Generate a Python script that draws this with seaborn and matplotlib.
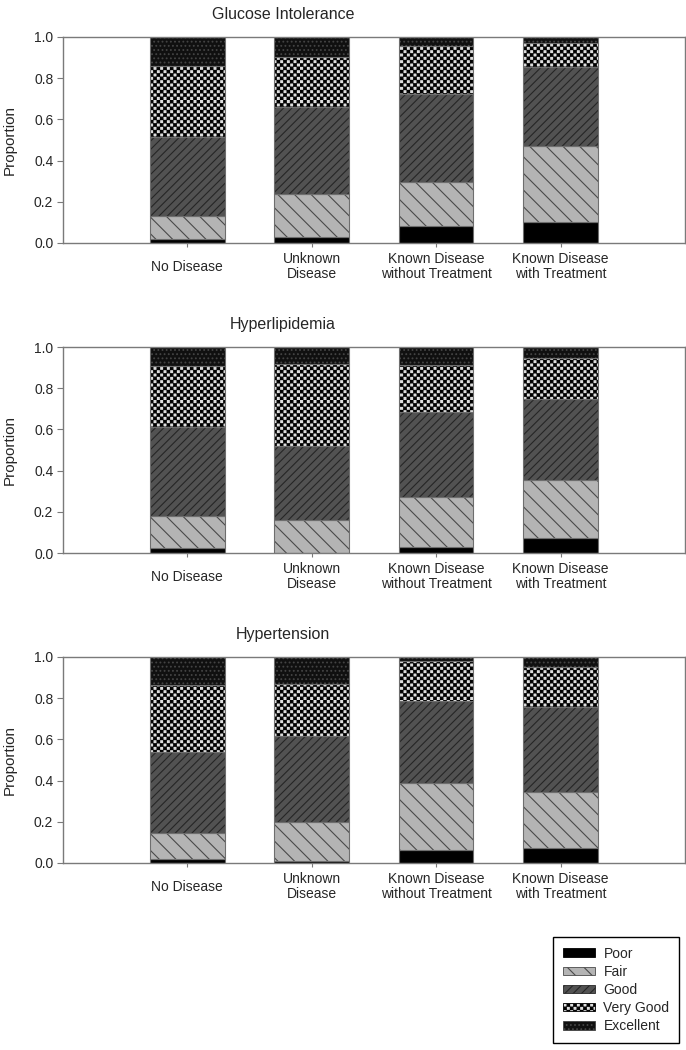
import warnings
import numpy as np
import pandas as pd
import matplotlib
matplotlib.use('Agg')
import matplotlib.pyplot as plt
import matplotlib.hatch as mhatch
from matplotlib.path import Path
from matplotlib.patches import Patch
import seaborn as sns

warnings.filterwarnings('ignore')

CATEGORIES = ["No Disease", "Unknown\nDisease",
              "Known Disease\nwithout Treatment", "Known Disease\nwith Treatment"]
RATINGS = ["Poor", "Fair", "Good", "Very Good", "Excellent"]
PANELS = ["Glucose Intolerance", "Hyperlipidemia", "Hypertension"]

# share of each health rating (rows, Poor -> Excellent) per category (columns)
glucose = [
    [0.020, 0.030, 0.080, 0.100],
    [0.110, 0.210, 0.215, 0.370],
    [0.385, 0.420, 0.430, 0.385],
    [0.345, 0.245, 0.230, 0.115],
    [0.140, 0.095, 0.045, 0.030],
]
hyperlipidemia = [
    [0.025, 0.002, 0.030, 0.075],
    [0.155, 0.158, 0.240, 0.280],
    [0.430, 0.360, 0.415, 0.395],
    [0.300, 0.400, 0.230, 0.195],
    [0.090, 0.080, 0.085, 0.055],
]
hypertension = [
    [0.018, 0.012, 0.062, 0.075],
    [0.130, 0.186, 0.328, 0.270],
    [0.392, 0.417, 0.395, 0.410],
    [0.325, 0.255, 0.195, 0.195],
    [0.135, 0.130, 0.020, 0.050],
]

# face colour, hatch, hatch colour
STYLES = {
    "Poor": ("#000000", None, "#000000"),
    "Fair": ("#b4b4b4", "\\\\", "#4a4a4a"),
    "Good": ("#525252", "////", "#262626"),
    "Very Good": ("#dedede", "#####", "#000000"),
    "Excellent": ("#101010", "....", "#444444"),
}


class CheckerHatch(mhatch.HatchPatternBase):
    """'#' in a hatch string draws a checkerboard of filled squares."""

    def __init__(self, hatch, density):
        n = hatch.count('#') * density
        self.num_cells = n + (n % 2)
        self.num_vertices = (self.num_cells ** 2 // 2) * 5

    def set_vertices_and_codes(self, vertices, codes):
        n = self.num_cells
        step = 1.0 / n
        inset = 0.004
        k = 0
        for i in range(n):
            for j in range(n):
                if (i + j) % 2:
                    continue
                x0, y0 = i * step + inset, j * step + inset
                x1, y1 = (i + 1) * step - inset, (j + 1) * step - inset
                vertices[k:k + 5] = [(x0, y0), (x1, y0), (x1, y1), (x0, y1), (x0, y0)]
                codes[k:k + 5] = [Path.MOVETO, Path.LINETO, Path.LINETO,
                                  Path.LINETO, Path.CLOSEPOLY]
                k += 5


mhatch._hatch_types.append(CheckerHatch)

sns.set_theme(style='white')
plt.rcParams['font.family'] = ['Liberation Sans', 'DejaVu Sans']
plt.rcParams['hatch.linewidth'] = 0.8

rows = []
for panel, table in zip(PANELS, [glucose, hyperlipidemia, hypertension]):
    for rating, vals in zip(RATINGS, table):
        for cat, v in zip(CATEGORIES, vals):
            rows.append({'panel': panel, 'rating': rating, 'category': cat, 'value': v})
df = pd.DataFrame(rows)
df['bottom'] = df.groupby(['panel', 'category'], sort=False)['value'].cumsum() - df['value']

fig = plt.figure(figsize=(6.86, 10.5), dpi=100)
bottoms = [0.7686, 0.4733, 0.1781]
spine_col = '#7a7a7a'

for panel, b in zip(PANELS, bottoms):
    ax = fig.add_axes([0.0918, b, 0.9066, 0.1962])
    for rating in RATINGS:
        face, hatch, hcol = STYLES[rating]
        sub = df[(df['panel'] == panel) & (df['rating'] == rating)]
        sns.barplot(data=sub, x='category', y='value', order=CATEGORIES,
                    bottom=sub['bottom'].to_numpy(), width=0.6, color=face,
                    facecolor=face, edgecolor=hcol, hatch=hatch, linewidth=0,
                    saturation=1, errorbar=None, ax=ax)
        # thin grey outline of each segment
        sns.barplot(data=sub, x='category', y='value', order=CATEGORIES,
                    bottom=sub['bottom'].to_numpy(), width=0.6, color='#6e6e6e',
                    facecolor='none', edgecolor='#6e6e6e', linewidth=0.8,
                    saturation=1, errorbar=None, ax=ax)

    ax.set_xlim(-1, 4)
    ax.set_ylim(0, 1)
    ax.set_yticks(np.arange(0, 1.01, 0.2))
    ax.yaxis.set_major_formatter('{x:.1f}')
    ax.set_xticks(range(len(CATEGORIES)))
    ax.set_xticklabels(CATEGORIES, va='center', linespacing=1.05)
    ax.set_xlabel('')
    ax.set_ylabel('Proportion', fontsize=11, labelpad=12)
    ax.set_title(panel, x=0.354, pad=13, fontsize=11.5)
    ax.tick_params(axis='x', bottom=True, length=3, width=0.8, pad=14,
                   color=spine_col, labelsize=10)
    ax.tick_params(axis='y', left=True, length=4, width=0.8, pad=3,
                   color=spine_col, labelsize=10)
    for s in ax.spines.values():
        s.set_color(spine_col)
        s.set_linewidth(1.0)
    if ax.get_legend() is not None:
        ax.get_legend().remove()

handles = [Patch(facecolor=STYLES[r][0], edgecolor=STYLES[r][2], hatch=STYLES[r][1],
                 linewidth=0.6) for r in RATINGS]
leg = fig.legend(handles, RATINGS, loc='lower right', bbox_to_anchor=(0.990, 0.0067),
                 frameon=True, fancybox=False, edgecolor='black', framealpha=1,
                 fontsize=10, handlelength=2.3, handleheight=0.55, labelspacing=0.3,
                 handletextpad=0.6, borderpad=0.7, borderaxespad=0)
leg.get_frame().set_linewidth(1.0)

fig.savefig('out.png', dpi=100)
